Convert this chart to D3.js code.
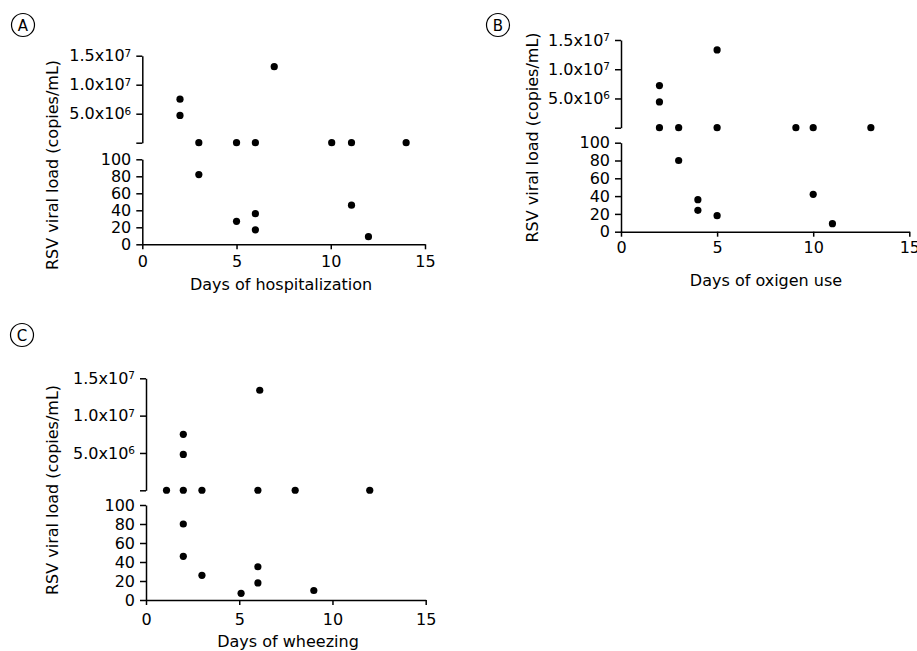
<!DOCTYPE html>
<html>
<head>
<meta charset="utf-8">
<script src="https://cdn.jsdelivr.net/npm/d3@7"></script>
<style>
  body { margin: 0; background: #fff; }
  svg text { font-family: "DejaVu Sans", sans-serif; fill: #000; }
</style>
</head>
<body>
<div id="chart"></div>
<script>
// data (values > 100 go to the upper axis segment)
var hospDays = [2, 2, 7, 3, 5, 6, 10.05, 11.1, 14, 3, 5, 6, 6, 11.1, 12];
var hospLoad = [7.5e6, 4.7e6, 1.31e7, 1e4, 1e4, 1e4, 1e4, 1e4, 1e4, 82, 27, 36, 17, 46, 9];

var oxyDays = [2, 2, 5, 2, 3, 5, 9.1, 10, 13, 3, 4, 4, 5, 10, 11];
var oxyLoad = [7.2e6, 4.4e6, 1.33e7, 1e4, 1e4, 1e4, 1e4, 1e4, 1e4, 80, 36, 24, 18, 42, 9];

var wheezeDays = [6.1, 2, 2, 1.1, 2, 3, 6, 8, 12, 2, 2, 3, 5.1, 6, 6, 9];
var wheezeLoad = [1.34e7, 7.5e6, 4.8e6, 1e4, 1e4, 1e4, 1e4, 1e4, 1e4, 80, 46, 26, 7, 35, 18, 10];

var xTicks = [0, 5, 10, 15];
var lowerTicks = [0, 20, 40, 60, 80, 100];
var upperTicks = [0, 5e6, 1e7, 1.5e7];
var upperMant = ['', '5.0x10', '1.0x10', '1.5x10'];
var upperExp = ['', '6', '7', '7'];
var yTitle = 'RSV viral load (copies/mL)';

var panels = [
  {letter: 'A', days: hospDays, load: hospLoad, title: 'Days of hospitalization',
   x0: 142.3, x1: 425, uTop: 55.7, uBot: 142.7, lTop: 159.3, lBot: 244.3, xPad: 6,
   titleX: 281, titleY: 290, ylabX: 58, ylabY: 165, cx: 23, cy: 25},
  {letter: 'B', days: oxyDays, load: oxyLoad, title: 'Days of oxigen use',
   x0: 621, x1: 909.3, uTop: 40, uBot: 127.7, lTop: 142.7, lBot: 231.7, xPad: 5,
   titleX: 766, titleY: 286, ylabX: 538, ylabY: 137.5, cx: 498, cy: 25},
  {letter: 'C', days: wheezeDays, load: wheezeLoad, title: 'Days of wheezing',
   x0: 146, x1: 425.7, uTop: 378.3, uBot: 490.3, lTop: 505, lBot: 600, xPad: 8.5,
   titleX: 288, titleY: 647, ylabX: 58, ylabY: 490, cx: 22, cy: 335}
];

var svg = d3.select('#chart').append('svg')
    .attr('width', 917).attr('height', 651);

panels.forEach(function(p) {
  var g = svg.append('g');

  var x = d3.scaleLinear().domain([0, 15]).range([p.x0, p.x1]);
  var yLow = d3.scaleLinear().domain([0, 100]).range([p.lBot, p.lTop]);
  var yUp = d3.scaleLinear().domain([0, 1.5e7]).range([p.uBot, p.uTop]);

  // x axis
  var gx = g.append('g')
      .attr('transform', 'translate(0,' + p.lBot + ')')
      .call(d3.axisBottom(x).tickValues(xTicks).tickSize(5).tickSizeOuter(0).tickPadding(p.xPad));

  // lower y segment
  var gyl = g.append('g')
      .attr('transform', 'translate(' + p.x0 + ',0)')
      .call(d3.axisLeft(yLow).tickValues(lowerTicks).tickSize(6).tickSizeOuter(0).tickPadding(5));

  // upper y segment, labels with superscripts
  var gyu = g.append('g')
      .attr('transform', 'translate(' + p.x0 + ',0)')
      .call(d3.axisLeft(yUp).tickValues(upperTicks).tickSize(6).tickSizeOuter(0).tickPadding(5));
  gyu.selectAll('.tick text').each(function(d, i) {
    var t = d3.select(this).text(null);
    t.append('tspan').text(upperMant[i]);
    t.append('tspan').attr('font-size', 10.5).attr('dy', '-0.45em').text(upperExp[i]);
  });

  [gx, gyl, gyu].forEach(function(a) {
    a.selectAll('path, line').attr('stroke', '#000').attr('stroke-width', 1.5);
    a.selectAll('text').attr('font-size', 16).attr('font-family', '"DejaVu Sans", sans-serif');
  });

  // points
  var pts = p.days.map(function(d, i) { return {x: d, y: p.load[i]}; });
  g.selectAll('circle.pt').data(pts).enter().append('circle')
      .attr('class', 'pt')
      .attr('cx', function(d) { return x(d.x); })
      .attr('cy', function(d) { return d.y > 100 ? yUp(d.y) : yLow(d.y); })
      .attr('r', 3.6)
      .attr('fill', '#000');

  // titles
  g.append('text')
      .attr('x', p.titleX).attr('y', p.titleY)
      .attr('text-anchor', 'middle')
      .attr('font-size', 16)
      .text(p.title);

  g.append('text')
      .attr('transform', 'translate(' + p.ylabX + ',' + p.ylabY + ') rotate(-90)')
      .attr('text-anchor', 'middle')
      .attr('font-size', 16)
      .text(yTitle);

  // panel letter in circle
  g.append('circle')
      .attr('cx', p.cx).attr('cy', p.cy).attr('r', 11.5)
      .attr('fill', 'none').attr('stroke', '#000').attr('stroke-width', 1.2);
  g.append('text')
      .attr('x', p.cx).attr('y', p.cy + 5.5)
      .attr('text-anchor', 'middle')
      .attr('font-size', 15)
      .text(p.letter);
});
</script>
</body>
</html>
